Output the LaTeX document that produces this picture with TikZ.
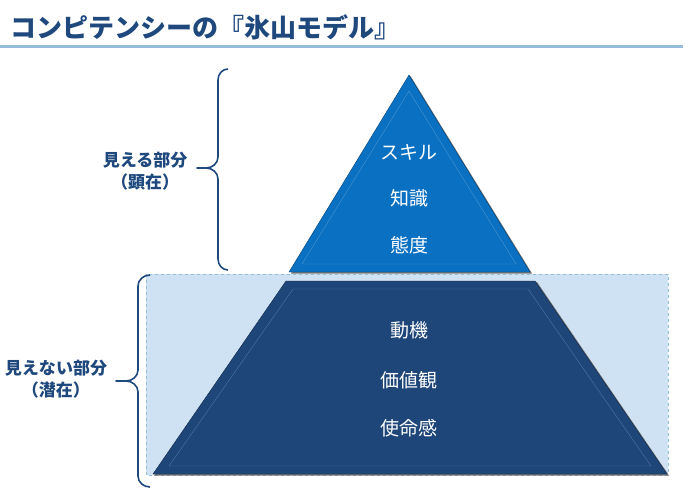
\documentclass[tikz,border=0pt]{standalone}
\usepackage{fontspec}
\newfontfamily\jpfont{Noto Sans CJK JP}
\definecolor{titleblue}{HTML}{1F497D}
\definecolor{tipblue}{HTML}{0A70C2}
\definecolor{deepblue}{HTML}{1E4679}
\definecolor{seablue}{HTML}{CFE2F3}
\definecolor{rulerblue}{HTML}{93BFD9}
\begin{document}
\begin{tikzpicture}[x=1pt,y=-1pt,
  lbl/.style={font=\jpfont\bfseries\fontsize{17}{22}\selectfont, text=titleblue, align=center},
  inner/.style={font=\jpfont\fontsize{19}{22}\selectfont, text=white},
  brc/.style={draw=titleblue, line width=1.6pt, line join=round}]
\useasboundingbox (0,0) rectangle (700,500);
\node[anchor=west, font=\jpfont\bfseries\fontsize{26}{30}\selectfont, text=titleblue] (title) at (7,27) {コンピテンシーの『氷山モデル』};
\draw[rulerblue, line width=3pt] (0,47) -- (683,47);

\filldraw[fill=seablue, draw=rulerblue, dashed, thin] (146,274) rectangle (668,475);

\fill[black!55] (410.5,76) -- (532,273.5) -- (291,273.5) -- cycle;
\filldraw[fill=tipblue, draw=tipblue!60!black] (409,75) -- (530,272) -- (289,272) -- cycle;
\draw[tipblue!75!white, thin] (409,91) -- (516,264) -- (302,264) -- cycle;

\fill[black!55] (287.5,282) -- (537,282) -- (669,475.5) -- (154,475.5) -- cycle;
\filldraw[fill=deepblue, draw=deepblue!60!black] (286,281) -- (535,281) -- (667,474) -- (153,474) -- cycle;
\draw[deepblue!75!white, thin] (293,289) -- (528,289) -- (651,466) -- (169,466) -- cycle;

\node[inner] (skill) at (409,152) {スキル};
\node[inner] (chishiki) at (409,198) {知識};
\node[inner] (taido) at (409,245) {態度};
\node[inner] (douki) at (409,330) {動機};
\node[inner] (kachikan) at (409,380) {価値観};
\node[inner] (shimeikan) at (409,428) {使命感};

\coordinate (uptip) at (197,168);
\coordinate (lowtip) at (116,381);
\draw[brc] (228,69) to[out=180,in=90] (218,80) -- (218,157) to[out=-90,in=0] (206,168) -- (uptip)
  -- (206,168) to[out=0,in=90] (218,179) -- (218,259) to[out=-90,in=180] (228,270);
\draw[brc] (150,275) to[out=180,in=90] (138,286) -- (138,370) to[out=-90,in=0] (126,381) -- (lowtip)
  -- (126,381) to[out=0,in=90] (138,392) -- (138,476) to[out=-90,in=180] (150,487);

\node[lbl] (mieru) at (145,171) {見える部分\\（顕在）};
\node[lbl] (mienai) at (56,379) {見えない部分\\（潜在）};
\end{tikzpicture}
\end{document}
